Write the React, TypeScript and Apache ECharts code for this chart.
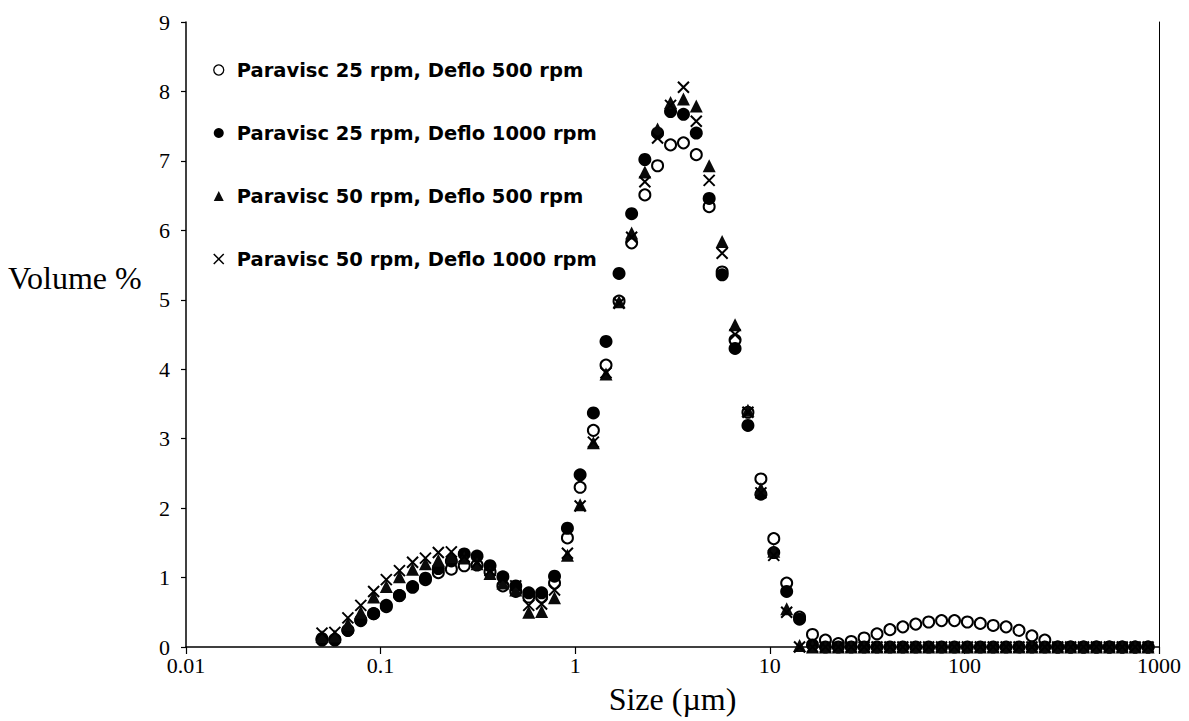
import React, { useEffect, useRef } from "react";
import * as echarts from "echarts";

// Particle size classes (µm)
const sizes = [
  0.05, 0.0582, 0.0679, 0.0791, 0.0921, 0.107, 0.125, 0.146, 0.17, 0.198,
  0.231, 0.269, 0.313, 0.365, 0.425, 0.495, 0.577, 0.672, 0.783, 0.912,
  1.06, 1.24, 1.44, 1.68, 1.95, 2.28, 2.65, 3.09, 3.6, 4.19,
  4.88, 5.69, 6.63, 7.72, 9.0, 10.48, 12.21, 14.22, 16.57, 19.31,
  22.49, 26.2, 30.53, 35.56, 41.43, 48.27, 56.23, 65.51, 76.32, 88.91,
  103.58, 120.67, 140.58, 163.77, 190.8, 222.28, 258.95, 301.68, 351.46, 409.45,
  477.01, 555.71, 647.41, 754.23, 878.67,
];

const p25d500 = [
  0.1, 0.1, 0.24, 0.38, 0.48, 0.58, 0.74, 0.86, 0.97, 1.07,
  1.12, 1.17, 1.18, 1.08, 0.88, 0.8, 0.72, 0.72, 0.92, 1.57,
  2.3, 3.12, 4.06, 4.98, 5.82, 6.51, 6.93, 7.23, 7.26, 7.09,
  6.34, 5.4, 4.42, 3.38, 2.42, 1.56, 0.92, 0.43, 0.18, 0.1,
  0.05, 0.08, 0.13, 0.19, 0.25, 0.29, 0.33, 0.36, 0.38, 0.38,
  0.36, 0.34, 0.31, 0.29, 0.24, 0.16, 0.1, 0, 0, 0,
  0, 0, 0, 0, 0,
];

const p25d1000 = [
  0.12, 0.11, 0.24, 0.39, 0.48, 0.6, 0.74, 0.87, 0.99, 1.13,
  1.24, 1.34, 1.31, 1.17, 1.01, 0.88, 0.78, 0.78, 1.02, 1.71,
  2.48, 3.37, 4.4, 5.38, 6.24, 7.02, 7.4, 7.71, 7.67, 7.4,
  6.46, 5.36, 4.3, 3.19, 2.2, 1.36, 0.8, 0.4, 0.03, 0,
  0, 0, 0, 0, 0, 0, 0, 0, 0, 0,
  0, 0, 0, 0, 0, 0, 0, 0, 0, 0,
  0, 0, 0, 0, 0,
];

const p50d500 = [
  0.15, 0.16, 0.33, 0.5, 0.72, 0.87, 1.01, 1.12, 1.2, 1.25,
  1.3, 1.28, 1.2, 1.06, 0.92, 0.82, 0.5, 0.51, 0.71, 1.32,
  2.05, 2.94, 3.93, 4.97, 5.96, 6.84, 7.46, 7.84, 7.89, 7.79,
  6.93, 5.84, 4.64, 3.41, 2.28, 1.38, 0.55, 0.02, 0, 0,
  0, 0, 0, 0, 0, 0, 0, 0, 0, 0,
  0, 0, 0, 0, 0, 0, 0, 0, 0, 0,
  0, 0, 0, 0, 0,
];

const p50d1000 = [
  0.2, 0.21, 0.42, 0.6, 0.8, 0.97, 1.1, 1.22, 1.28, 1.36,
  1.37, 1.3, 1.22, 1.1, 0.98, 0.88, 0.6, 0.62, 0.82, 1.35,
  2.03, 2.95, 3.95, 4.95, 5.9, 6.7, 7.33, 7.8, 8.06, 7.57,
  6.72, 5.67, 4.5, 3.38, 2.22, 1.32, 0.5, 0, 0, 0,
  0, 0, 0, 0, 0, 0, 0, 0, 0, 0,
  0, 0, 0, 0, 0, 0, 0, 0, 0, 0,
  0, 0, 0, 0, 0,
];

const seriesNames = [
  "Paravisc 25 rpm, Deflo 500 rpm",
  "Paravisc 25 rpm, Deflo 1000 rpm",
  "Paravisc 50 rpm, Deflo 500 rpm",
  "Paravisc 50 rpm, Deflo 1000 rpm",
];

const xTickLabels = ["0.01", "0.1", "1", "10", "100", "1000"];
const yTicks = [0, 1, 2, 3, 4, 5, 6, 7, 8, 9];

const CROSS = "path://M0,0L10,10M10,0L0,10";

export default function App() {
  const ref = useRef<HTMLDivElement>(null);

  useEffect(() => {
    if (!ref.current) return;
    const chart = echarts.init(ref.current, null, { renderer: "svg" });
    const pair = (vals: number[]) => sizes.map((s, i) => [s, vals[i]]);

    const styles = [
      { symbol: "circle", symbolSize: 11, itemStyle: { color: "#fff", borderColor: "#000", borderWidth: 2, opacity: 1 } },
      { symbol: "circle", symbolSize: 13, itemStyle: { color: "#000", borderWidth: 0, opacity: 1 } },
      { symbol: "triangle", symbolSize: 13, itemStyle: { color: "#0a0a0a", borderWidth: 0, opacity: 1 } },
      { symbol: CROSS, symbolSize: 11, itemStyle: { color: "#000", borderColor: "#000", borderWidth: 2, opacity: 1 } },
    ];
    const legendStyles = [
      { icon: "circle", itemStyle: { color: "#fff", borderColor: "#000", borderWidth: 1.3, opacity: 1 } },
      { icon: "circle", itemStyle: { color: "#000", borderWidth: 0, opacity: 1 } },
      { icon: "triangle", itemStyle: { color: "#0a0a0a", borderWidth: 0, opacity: 1 } },
      { icon: CROSS, itemStyle: { color: "#000", borderColor: "#000", borderWidth: 1.5, opacity: 1 } },
    ];
    const data = [p25d500, p25d1000, p50d500, p50d1000];

    chart.setOption({
      animation: false,
      backgroundColor: "#fff",
      grid: { left: 186, right: 30, top: 22, bottom: 74, containLabel: false },
      legend: {
        orient: "vertical",
        left: 213,
        top: 60,
        padding: 0,
        itemWidth: 10,
        itemHeight: 10,
        itemGap: 43,
        selectedMode: false,
        textStyle: {
          fontFamily: "DejaVu Sans",
          fontWeight: "bold",
          fontSize: 19.5,
          color: "#000",
          lineHeight: 20,
          padding: [0, 0, 0, 8],
        },
        data: seriesNames.map((n, i) => ({ name: n, ...legendStyles[i] })),
      },
      xAxis: {
        type: "log",
        logBase: 10,
        min: 0.01,
        max: 1000,
        name: "Size (µm)",
        nameLocation: "middle",
        nameGap: 36,
        nameTextStyle: { fontFamily: "Liberation Serif", fontSize: 32, color: "#000" },
        axisLine: { show: true, onZero: false, lineStyle: { color: "#000", width: 1.5 } },
        axisTick: { show: true, inside: false, length: 7, lineStyle: { color: "#000", width: 1.2 } },
        minorTick: { show: false },
        splitLine: { show: false },
        axisLabel: {
          margin: 7,
          fontFamily: "Liberation Serif",
          fontSize: 22,
          color: "#000",
          formatter: (v: number) => {
            const idx = Math.round(Math.log10(v)) + 2;
            return xTickLabels[idx] ?? String(v);
          },
        },
      },
      yAxis: [
        {
          type: "value",
          min: yTicks[0],
          max: yTicks[yTicks.length - 1],
          interval: 1,
          axisLine: { show: true, lineStyle: { color: "#000", width: 1.5 } },
          axisTick: { show: true, inside: false, length: 5, lineStyle: { color: "#000", width: 1.2 } },
          splitLine: { show: false },
          axisLabel: { margin: 16, fontFamily: "Liberation Serif", fontSize: 22, color: "#000" },
        },
        {
          type: "value",
          position: "right",
          min: 0,
          max: 9,
          interval: 1,
          axisLine: { show: true, lineStyle: { color: "#000", width: 1 } },
          axisTick: { show: false },
          axisLabel: { show: false },
          splitLine: { show: false },
        },
      ],
      graphic: [
        {
          type: "text",
          left: 8,
          top: 262,
          style: {
            text: "Volume %",
            fontFamily: "Liberation Serif",
            fontSize: 32,
            fill: "#000",
          },
        },
      ],
      series: seriesNames.map((n, i) => ({
        name: n,
        type: "scatter",
        yAxisIndex: 0,
        data: pair(data[i]),
        ...styles[i],
        z: 2 + i,
        emphasis: { disabled: true },
      })),
    });
    return () => chart.dispose();
  }, []);

  return (
    <div
      ref={ref}
      style={{ position: "fixed", left: 0, top: 0, width: 1189, height: 721, background: "#fff" }}
    />
  );
}
